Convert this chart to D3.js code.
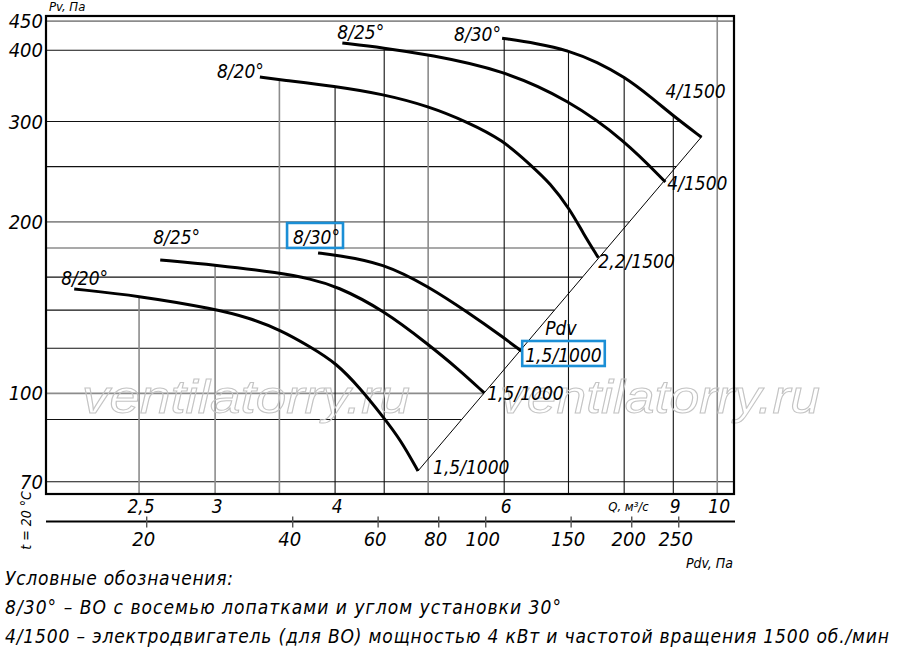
<!DOCTYPE html>
<html>
<head>
<meta charset="utf-8">
<script src="https://cdn.jsdelivr.net/npm/d3@7"></script>
<style>
  body { margin: 0; background: #fff; }
  svg text { font-family: "DejaVu Sans Condensed", "DejaVu Sans", sans-serif; font-style: italic; fill: #000; }
  .legend text { font-family: "Liberation Sans Narrow", "DejaVu Sans Condensed", sans-serif; }
</style>
</head>
<body>
<svg id="chart" width="900" height="649"></svg>
<script>
// Pv axis, Pa (log)
const pvTicks = [450, 400, 300, 200, 100, 70];
const pvGrid = [450, 400, 300, 250, 200, 180, 160, 140, 120, 100, 90, 70];
// Q axis, m3/s (log)
const qTicks = [2.5, 3, 4, 6, 9, 10];
const qTickLabels = ["2,5", "3", "4", "6", "9", "10"];
const qGrid = [2.5, 3, 3.5, 4, 4.5, 5, 6, 7, 8, 9, 10];
// Pdv axis, Pa
const pdvTicks = [20, 40, 60, 80, 100, 150, 200, 250];

// fan curves: Q (m3/s) and Pv (Pa)
const q20small = [2.14, 2.5, 3.0, 3.26, 3.51, 3.77, 4.01, 4.25, 4.49, 4.68, 4.88];
const pv20small = [152.5, 148.3, 140.7, 135.6, 129.2, 120.7, 113.1, 102, 90.9, 82.9, 73.1];
const q25small = [2.63, 3.0, 3.51, 3.77, 4.01, 4.49, 5.01, 5.36, 5.72];
const pv25small = [171.5, 168.1, 162.7, 158.8, 154.4, 140.1, 121.6, 110.8, 100.2];
const q30small = [3.84, 4.0, 4.49, 5.01, 5.49, 6.0, 6.25];
const pv30small = [176.4, 175, 169.4, 153.8, 139, 125.1, 118.7];
const q20big = [3.34, 3.51, 4.0, 4.49, 5.01, 5.49, 5.98, 6.39, 6.70, 7.03, 7.25, 7.52];
const pv20big = [359, 355, 346, 335, 319, 299.5, 278.5, 251.7, 234, 210, 191, 173];
const q25big = [4.07, 4.49, 5.01, 5.98, 7.01, 8.0, 8.83];
const pv25big = [412, 404, 393, 369.5, 327, 278.5, 235];
const q30big = [5.97, 6.49, 7.01, 7.5, 8.0, 8.52, 9.02, 9.63];
const pv30big = [420, 411.5, 399.5, 381.5, 359.5, 331.7, 305.9, 281.5];

// Pdv line through the curve ends
const qPdvLine = [4.88, 9.63];
const pvPdvLine = [73.1, 282];

const bladeNames = ["8/20°", "8/25°", "8/30°", "8/20°", "8/25°", "8/30°"];
const motorNames = ["1,5/1000", "1,5/1000", "1,5/1000", "2,2/1500", "4/1500", "4/1500"];

const curves = [
  { q: q20small, pv: pv20small },
  { q: q25small, pv: pv25small },
  { q: q30small, pv: pv30small },
  { q: q20big, pv: pv20big },
  { q: q25big, pv: pv25big },
  { q: q30big, pv: pv30big }
].map((c, i) => ({ ...c, name: bladeNames[i], motor: motorNames[i] }));

// label nudges (px) from curve start / end
const startNudge = [[-13, -4], [-7, -16], [-25, -9], [-43, 1], [-5, -4], [-48, 3]];
const endNudge = [[15, 3], [3, 7], [4, 11], [0, 10], [2, 8], [-36, -39]];
const boxed = 2; // the curve whose labels are framed in blue

const svg = d3.select("#chart");
const mLeft = 46, mRight = 734, mTop = 16, mBottom = 494;

const x = d3.scaleLog().domain([2.0, 10.41]).range([mLeft, mRight]);
const y = d3.scaleLog().domain([66.6, 459.5]).range([mBottom, mTop]);
const xPdv = d3.scaleLog().domain([12.4, 325]).range([mLeft, mRight]);

// interpolate one coordinate along a polyline in log-log space
function along(xs, ys, v) {
  for (let i = 0; i < xs.length - 1; i++) {
    const a = xs[i], b = xs[i + 1];
    if ((v - a) * (v - b) <= 0 && a !== b) {
      const t = (Math.log(v) - Math.log(a)) / (Math.log(b) - Math.log(a));
      return Math.exp(Math.log(ys[i]) + t * (Math.log(ys[i + 1]) - Math.log(ys[i])));
    }
  }
  return null;
}
const allLines = curves.map(c => ({ q: c.q, pv: c.pv })).concat([{ q: qPdvLine, pv: pvPdvLine }]);

const greyPv = new Set([450, 200, 180, 100]);
const greyQ = new Set([2.5, 3, 3.5, 5, 10]);

// horizontal grid: stops at the outer edge of the fan
const grid = svg.append("g");
pvGrid.forEach(p => {
  const hits = allLines.map(l => along(l.pv, l.q, p)).filter(v => v !== null);
  const xEnd = hits.length ? x(d3.max(hits)) : mRight;
  grid.append("line")
    .attr("x1", mLeft).attr("x2", xEnd)
    .attr("y1", y(p)).attr("y2", y(p))
    .attr("stroke", greyPv.has(p) ? "#8c8c8c" : "#111")
    .attr("stroke-width", greyPv.has(p) ? 1.6 : 1.1);
});
// vertical grid: starts under the upper envelope
qGrid.forEach(q => {
  const hits = allLines.map(l => along(l.q, l.pv, q)).filter(v => v !== null);
  const yStart = hits.length ? y(d3.max(hits)) : mTop;
  grid.append("line")
    .attr("x1", x(q)).attr("x2", x(q))
    .attr("y1", yStart).attr("y2", mBottom)
    .attr("stroke", greyQ.has(q) ? "#8c8c8c" : "#111")
    .attr("stroke-width", greyQ.has(q) ? 1.6 : 1.1);
});

// watermark
["ventilatorry.ru", "ventilatorry.ru"].forEach((t, i) => {
  svg.append("text")
    .attr("x", i === 0 ? 82 : 500).attr("y", 413)
    .attr("textLength", i === 0 ? 328 : 320)
    .attr("lengthAdjust", "spacingAndGlyphs")
    .style("font-family", "'Liberation Sans', sans-serif")
    .style("font-size", "46px")
    .style("fill", "none")
    .style("stroke", "#c4c4c4")
    .style("stroke-width", 1)
    .text(t);
});

// frame
svg.append("rect")
  .attr("x", mLeft).attr("y", mTop)
  .attr("width", mRight - mLeft).attr("height", mBottom - mTop)
  .attr("fill", "none").attr("stroke", "#000").attr("stroke-width", 2.2);

// Pdv line
const line = d3.line().x(d => x(d[0])).y(d => y(d[1]));
svg.append("path")
  .attr("d", line(qPdvLine.map((q, i) => [q, pvPdvLine[i]])))
  .attr("fill", "none").attr("stroke", "#000").attr("stroke-width", 1);

// fan curves (B-spline smooths the hand-read points, keeps the end points)
const curveLine = d3.line().x(d => x(d[0])).y(d => y(d[1])).curve(d3.curveBasis);
curves.forEach((c, i) => {
  const pts = c.q.map((q, k) => [q, c.pv[k]]);
  svg.append("path")
    .attr("d", curveLine(pts))
    .attr("fill", "none").attr("stroke", "#000").attr("stroke-width", 3)
    .attr("stroke-linecap", "butt");

  const s = pts[0], e = pts[pts.length - 1];
  const t1 = svg.append("text")
    .attr("x", x(s[0]) + startNudge[i][0]).attr("y", y(s[1]) + startNudge[i][1])
    .style("font-size", "19px")
    .text(c.name);
  const t2 = svg.append("text")
    .attr("x", x(e[0]) + endNudge[i][0]).attr("y", y(e[1]) + endNudge[i][1])
    .style("font-size", "19px")
    .text(c.motor);

  if (i === boxed) {
    [[t1, 6, 3], [t2, 3, 3]].forEach(([t, px, py]) => {
      const bb = t.node().getBBox();
      svg.append("rect")
        .attr("x", bb.x - px).attr("y", bb.y - py)
        .attr("width", bb.width + px + 3).attr("height", bb.height + py)
        .attr("fill", "none").attr("stroke", "#1b8fd6").attr("stroke-width", 2.6);
    });
    // "Pdv" tag beside the line
    svg.append("text")
      .attr("x", x(e[0]) + 24).attr("y", y(e[1]) - 16)
      .style("font-size", "19px")
      .text("Pdv");
  }
});

// Pv tick labels
svg.append("g").selectAll("text")
  .data(pvTicks).enter().append("text")
  .attr("x", mLeft - 3).attr("y", d => y(d))
  .attr("text-anchor", "end").attr("dominant-baseline", "central")
  .style("font-size", "20px")
  .text(d => d);

svg.append("text")
  .attr("x", mLeft + 3).attr("y", mTop - 5)
  .style("font-size", "13px")
  .text("Pv, Па");

// Q tick labels
svg.append("g").selectAll("text")
  .data(qTicks).enter().append("text")
  .attr("x", d => x(d) + 2).attr("y", mBottom + 19)
  .attr("text-anchor", "middle")
  .style("font-size", "19px")
  .text((d, i) => qTickLabels[i]);

svg.append("text")
  .attr("x", x(8) - 16).attr("y", mBottom + 17)
  .style("font-size", "13px")
  .text("Q, м³/с");

// Pdv axis
const pdvY = 521.5;
svg.append("line")
  .attr("x1", mLeft).attr("x2", mRight + 1)
  .attr("y1", pdvY).attr("y2", pdvY)
  .attr("stroke", "#000").attr("stroke-width", 2);
const pdvG = svg.append("g").selectAll("g")
  .data(pdvTicks).enter().append("g");
pdvG.append("line")
  .attr("x1", d => xPdv(d)).attr("x2", d => xPdv(d))
  .attr("y1", pdvY - 5).attr("y2", pdvY + 6)
  .attr("stroke", "#555").attr("stroke-width", 1.4);
pdvG.append("text")
  .attr("x", d => xPdv(d) - 3).attr("y", pdvY + 24)
  .attr("text-anchor", "middle")
  .style("font-size", "20px")
  .text(d => d);

svg.append("text")
  .attr("x", mRight - 1).attr("y", 568)
  .attr("text-anchor", "end")
  .style("font-size", "14px")
  .text("Pdv, Па");

svg.append("text")
  .attr("transform", `translate(31, ${pdvY - 1}) rotate(-90)`)
  .attr("text-anchor", "middle")
  .style("font-size", "14px")
  .text("t = 20 °C");

// legend notes
const notes = [
  "Условные обозначения:",
  "8/30° – ВО с восемью лопатками и углом установки 30°",
  "4/1500 – электродвигатель (для ВО) мощностью 4 кВт и частотой вращения 1500 об./мин"
];
const noteWidths = [228, 556, 884];
svg.append("g").attr("class", "legend").selectAll("text")
  .data(notes).enter().append("text")
  .attr("x", 5).attr("y", (d, i) => 585 + i * 29)
  .attr("textLength", (d, i) => noteWidths[i])
  .attr("lengthAdjust", "spacing")
  .style("font-size", "19px")
  .text(d => d);
</script>
</body>
</html>
